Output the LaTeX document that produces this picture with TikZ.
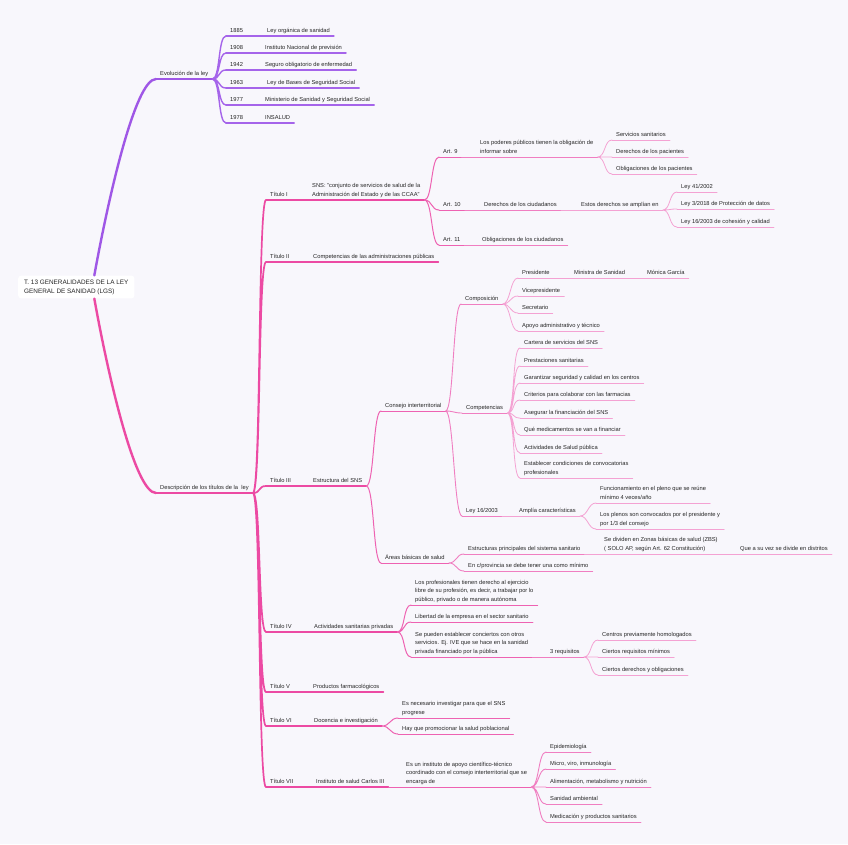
\documentclass[tikz,border=0pt]{standalone}
\usepackage{fontspec}
\setmainfont{Liberation Sans}
\definecolor{bgc}{HTML}{F8F7FC}
\definecolor{evoA}{HTML}{9F57E6}
\definecolor{evoB}{HTML}{A564EA}
\definecolor{pinkA}{HTML}{EC4AA3}
\definecolor{pinkB}{HTML}{EE62B2}
\definecolor{pinkC}{HTML}{F07EC1}
\definecolor{pinkD}{HTML}{F4A2D3}
\tikzset{
  lk/.style 2 args={draw=#1, line width=#2, line cap=round},
  v1/.style={lk={evoA}{2.4pt}},
  v2/.style={lk={evoB}{1.4pt}},
  v3/.style={lk={evoB}{1.1pt}},
  l1/.style={lk={pinkA}{2.4pt}},
  l2/.style={lk={pinkA}{1.7pt}},
  l3/.style={lk={pinkA}{1.2pt}},
  l4/.style={lk={pinkB}{1pt}},
  l5/.style={lk={pinkC}{0.9pt}},
  l6/.style={lk={pinkD}{0.8pt}},
  tp/.style={anchor=south west, inner xsep=4pt, inner ysep=2pt, text depth=1.5pt, align=left,
    text=black!85, font=\fontsize{5.75}{8.6}\selectfont,
    append after command={(\tikzlastnode.south west) edge[#1] (\tikzlastnode.south east)}},
  fanout/.style={to path={.. controls +(8,0) and +(-8,0) .. (\tikztotarget)}},
  rootbox/.style={anchor=west, fill=white, rounded corners=3pt, inner xsep=6pt, inner ysep=4pt,
    align=left, text=black!85, font=\fontsize{6.4}{9}\selectfont}
}
\begin{document}
\begin{tikzpicture}[x=1pt,y=-1pt]
  \fill[bgc] (0,0) rectangle (848,844); % background
  \useasboundingbox (0,0) rectangle (848,844);

  \node[rootbox] (root) at (18,287) {T. 13 GENERALIDADES DE LA LEY\\GENERAL DE SANIDAD (LGS)};

  % evolucion de la ley
  \node[tp=v1] (evo) at (156,79) {Evolución de la ley};
  \node[tp=v2] (y85) at (226,36) {1885};
  \node[tp=v3] (y85t) at (263,36) {Ley orgánica de sanidad};
  \node[tp=v2] (y08) at (226,53) {1908};
  \node[tp=v3] (y08t) at (261,53) {Instituto Nacional de previsión};
  \node[tp=v2] (y42) at (226,70) {1942};
  \node[tp=v3] (y42t) at (261,70) {Seguro obligatorio de enfermedad};
  \node[tp=v2] (y63) at (226,88) {1963};
  \node[tp=v3] (y63t) at (263,88) {Ley de Bases de Seguridad Social};
  \node[tp=v2] (y77) at (226,105) {1977};
  \node[tp=v3] (y77t) at (261,105) {Ministerio de Sanidad y Seguridad Social};
  \node[tp=v2] (y78) at (226,123) {1978};
  \node[tp=v3] (y78t) at (261,123) {INSALUD};

  \draw[v1] ([xshift=18pt]root.north) .. controls (108,200) and (135,79) .. (evo.south west); % root to evolucion
  \draw[v2] (evo.south east) to[fanout] (y85.south west) (evo.south east) to[fanout] (y08.south west)
    (evo.south east) to[fanout] (y42.south west) (evo.south east) to[fanout] (y63.south west)
    (evo.south east) to[fanout] (y77.south west) (evo.south east) to[fanout] (y78.south west);
  \draw[v3] (y85.south east) -- (y85t.south west) (y08.south east) -- (y08t.south west)
    (y42.south east) -- (y42t.south west) (y63.south east) -- (y63t.south west)
    (y77.south east) -- (y77t.south west) (y78.south east) -- (y78t.south west);

  % descripcion de los titulos
  \node[tp=l1] (desc) at (156,493) {Descripción de los títulos de la~ ley};
  \draw[l1] ([xshift=18pt]root.south) .. controls (108,375) and (135,493) .. (desc.south west); % root to descripcion

  % titulo I
  \node[tp=l2] (t1) at (266,200) {Título I};
  \node[tp=l3] (sns) at (308,200) {SNS: "conjunto de servicios de salud de la\\Administración del Estado y de las CCAA"};
  \node[tp=l4] (art9) at (439,157) {Art. 9};
  \node[tp=l5] (poder) at (476,157) {Los poderes públicos tienen la obligación de\\informar sobre};
  \node[tp=l6] (serv) at (612,140) {Servicios sanitarios};
  \node[tp=l6] (derp) at (612,157) {Derechos de los pacientes};
  \node[tp=l6] (oblp) at (612,174) {Obligaciones de los pacientes};
  \node[tp=l4] (art10) at (439,210) {Art. 10};
  \node[tp=l5] (derc) at (480,210) {Derechos de los ciudadanos};
  \node[tp=l6] (ampl) at (577,210) {Estos derechos se amplían en};
  \node[tp=l6] (ley41) at (677,192) {Ley 41/2002};
  \node[tp=l6] (ley3) at (677,209) {Ley 3/2018 de Protección de datos};
  \node[tp=l6] (ley16a) at (677,227) {Ley 16/2003 de cohesión y calidad};
  \node[tp=l4] (art11) at (439,245) {Art. 11};
  \node[tp=l5] (oblc) at (478,245) {Obligaciones de los ciudadanos};

  % titulo II
  \node[tp=l2] (t2) at (266,262) {Título II};
  \node[tp=l3] (compadm) at (309,262) {Competencias de las administraciones públicas};

  % titulo III
  \node[tp=l2] (t3) at (266,486) {Título III};
  \node[tp=l3] (estr) at (309,486) {Estructura del SNS};
  \node[tp=l4] (cons) at (381,411) {Consejo interterritorial};
  \node[tp=l5] (compo) at (461,304) {Composición};
  \node[tp=l6] (pres) at (518,278) {Presidente};
  \node[tp=l6] (mins) at (570,278) {Ministra de Sanidad};
  \node[tp=l6] (monica) at (643,278) {Mónica García};
  \node[tp=l6] (vice) at (518,296) {Vicepresidente};
  \node[tp=l6] (secr) at (518,313) {Secretario};
  \node[tp=l6] (apoyo) at (518,331) {Apoyo administrativo y técnico};
  \node[tp=l5] (compe) at (462,413) {Competencias};
  \node[tp=l6] (cart) at (520,348) {Cartera de servicios del SNS};
  \node[tp=l6] (prest) at (520,366) {Prestaciones sanitarias};
  \node[tp=l6] (garan) at (520,383) {Garantizar seguridad y calidad en los centros};
  \node[tp=l6] (crit) at (520,400) {Criterios para colaborar con las farmacias};
  \node[tp=l6] (aseg) at (520,418) {Asegurar la financiación del SNS};
  \node[tp=l6] (medic) at (520,435) {Qué medicamentos se van a financiar};
  \node[tp=l6] (activsp) at (520,453) {Actividades de Salud pública};
  \node[tp=l6] (convoc) at (520,478) {Establecer condiciones de convocatorias\\profesionales};
  \node[tp=l5] (ley16b) at (462,516) {Ley 16/2003};
  \node[tp=l6] (carac) at (515,516) {Amplía características};
  \node[tp=l6] (func) at (596,503) {Funcionamiento en el pleno que se reúne\\mínimo 4 veces/año};
  \node[tp=l6] (plenos) at (596,529) {Los plenos son convocados por el presidente y\\por 1/3 del consejo};
  \node[tp=l4] (areas) at (381,563) {Áreas básicas de salud};
  \node[tp=l5] (estp) at (464,554) {Estructuras principales del sistema sanitario};
  \node[tp=l6] (zbs) at (600,554) {Se dividen en Zonas básicas de salud (ZBS)\\( SOLO AP, según Art. 62 Constitución)};
  \node[tp=l6] (distr) at (736,554) {Que a su vez se divide en distritos};
  \node[tp=l5] (prov) at (464,571) {En c/provincia se debe tener una como mínimo};

  % titulo IV
  \node[tp=l2] (t4) at (266,632) {Título IV};
  \node[tp=l3] (activ) at (310,632) {Actividades sanitarias privadas};
  \node[tp=l4] (prof) at (411,605) {Los profesionales tienen derecho al ejercicio\\libre de su profesión, es decir, a trabajar por lo\\público, privado o de manera autónoma};
  \node[tp=l4] (libre) at (411,622) {Libertad de la empresa en el sector sanitario};
  \node[tp=l4] (conc) at (411,657) {Se pueden establecer conciertos con otros\\servicios. Ej. IVE que se hace en la sanidad\\privada financiado por la pública};
  \node[tp=l5] (req) at (546,657) {3 requisitos};
  \node[tp=l6] (req1) at (598,640) {Centros previamente homologados};
  \node[tp=l6] (req2) at (598,657) {Ciertos requisitos mínimos};
  \node[tp=l6] (req3) at (598,675) {Ciertos derechos y obligaciones};

  % titulos V, VI, VII
  \node[tp=l2] (t5) at (266,692) {Título V};
  \node[tp=l3] (farm) at (309,692) {Productos farmacológicos};
  \node[tp=l2] (t6) at (266,726) {Título VI};
  \node[tp=l3] (doc) at (310,726) {Docencia e investigación};
  \node[tp=l4] (inv) at (398,718) {Es necesario investigar para que el SNS\\progrese};
  \node[tp=l4] (prom) at (398,734) {Hay que promocionar la salud poblacional};
  \node[tp=l2] (t7) at (266,787) {Título VII};
  \node[tp=l3] (carlos) at (312,787) {Instituto de salud Carlos III};
  \node[tp=l4] (inst) at (402,787) {Es un instituto de apoyo científico-técnico\\coordinado con el consejo interterritorial que se\\encarga de};
  \node[tp=l5] (epid) at (546,752) {Epidemiología};
  \node[tp=l5] (micro) at (546,769) {Micro, viro, inmunología};
  \node[tp=l5] (alim) at (546,787) {Alimentación, metabolismo y nutrición};
  \node[tp=l5] (sanamb) at (546,804) {Sanidad ambiental};
  \node[tp=l5] (medprod) at (546,822) {Medicación y productos sanitarios};

  % connectors
  \draw[l2] (desc.south east) to[fanout] (t1.south west) (desc.south east) to[fanout] (t2.south west)
    (desc.south east) to[fanout] (t3.south west) (desc.south east) to[fanout] (t4.south west)
    (desc.south east) to[fanout] (t5.south west) (desc.south east) to[fanout] (t6.south west)
    (desc.south east) to[fanout] (t7.south west); % titulos
  \draw[l3] (t1.south east) -- (sns.south west) (t2.south east) -- (compadm.south west)
    (t3.south east) -- (estr.south west) (t4.south east) -- (activ.south west)
    (t5.south east) -- (farm.south west) (t6.south east) -- (doc.south west)
    (t7.south east) -- (carlos.south west);
  \draw[l4] (sns.south east) to[fanout] (art9.south west) (sns.south east) to[fanout] (art10.south west)
    (sns.south east) to[fanout] (art11.south west);
  \draw[l5] (art9.south east) -- (poder.south west) (art10.south east) -- (derc.south west)
    (art11.south east) -- (oblc.south west);
  \draw[l6] (poder.south east) to[fanout] (serv.south west) (poder.south east) to[fanout] (derp.south west)
    (poder.south east) to[fanout] (oblp.south west);
  \draw[l6] (derc.south east) -- (ampl.south west);
  \draw[l6] (ampl.south east) to[fanout] (ley41.south west) (ampl.south east) to[fanout] (ley3.south west)
    (ampl.south east) to[fanout] (ley16a.south west);
  \draw[l4] (estr.south east) to[fanout] (cons.south west) (estr.south east) to[fanout] (areas.south west);
  \draw[l5] (cons.south east) to[fanout] (compo.south west) (cons.south east) to[fanout] (compe.south west)
    (cons.south east) to[fanout] (ley16b.south west);
  \draw[l6] (compo.south east) to[fanout] (pres.south west) (compo.south east) to[fanout] (vice.south west)
    (compo.south east) to[fanout] (secr.south west) (compo.south east) to[fanout] (apoyo.south west);
  \draw[l6] (pres.south east) -- (mins.south west) (mins.south east) -- (monica.south west);
  \draw[l6] (compe.south east) to[fanout] (cart.south west) (compe.south east) to[fanout] (prest.south west)
    (compe.south east) to[fanout] (garan.south west) (compe.south east) to[fanout] (crit.south west)
    (compe.south east) to[fanout] (aseg.south west) (compe.south east) to[fanout] (medic.south west)
    (compe.south east) to[fanout] (activsp.south west) (compe.south east) to[fanout] (convoc.south west);
  \draw[l6] (ley16b.south east) -- (carac.south west);
  \draw[l6] (carac.south east) to[fanout] (func.south west) (carac.south east) to[fanout] (plenos.south west);
  \draw[l5] (areas.south east) to[fanout] (estp.south west) (areas.south east) to[fanout] (prov.south west);
  \draw[l6] (estp.south east) -- (zbs.south west) (zbs.south east) -- (distr.south west);
  \draw[l4] (activ.south east) to[fanout] (prof.south west) (activ.south east) to[fanout] (libre.south west)
    (activ.south east) to[fanout] (conc.south west);
  \draw[l5] (conc.south east) -- (req.south west);
  \draw[l6] (req.south east) to[fanout] (req1.south west) (req.south east) to[fanout] (req2.south west)
    (req.south east) to[fanout] (req3.south west);
  \draw[l4] (doc.south east) to[fanout] (inv.south west) (doc.south east) to[fanout] (prom.south west);
  \draw[l4] (carlos.south east) -- (inst.south west);
  \draw[l5] (inst.south east) to[fanout] (epid.south west) (inst.south east) to[fanout] (micro.south west)
    (inst.south east) to[fanout] (alim.south west) (inst.south east) to[fanout] (sanamb.south west)
    (inst.south east) to[fanout] (medprod.south west);
\end{tikzpicture}
\end{document}
